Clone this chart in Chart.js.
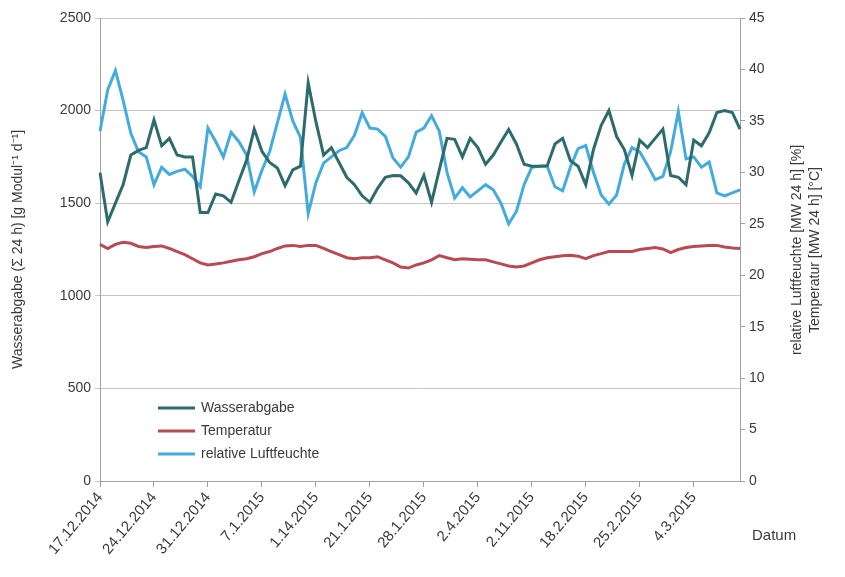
<!DOCTYPE html>
<html>
<head>
<meta charset="utf-8">
<script src="https://cdn.jsdelivr.net/npm/chart.js@4.4.1/dist/chart.umd.min.js"></script>
<style>
  html, body { margin: 0; padding: 0; background: #fff; }
  #wrap { width: 845px; height: 577px; position: relative; }
</style>
</head>
<body>
<div id="wrap"><canvas id="chart" width="845" height="577"></canvas></div>
<script>
// x axis labels shown every 7 days (kept as printed in the source)
const weekTicks = ['17.12.2014', '24.12.2014', '31.12.2014', '7.1.2015', '1.14.2015', '21.1.2015',
    '28.1.2015', '2.4.2015', '2.11.2015', '18.2.2015', '25.2.2015', '4.3.2015'];

// Wasserabgabe, g per module and day (left axis)
const wasserabgabe = [
    1665, 1400, 1500, 1600, 1760, 1785, 1800, 1950, 1810, 1850,
    1760, 1750, 1750, 1450, 1450, 1550, 1540, 1505, 1620, 1730,
    1900, 1780, 1720, 1690, 1595, 1680, 1700, 2150, 1940, 1760,
    1800, 1720, 1640, 1600, 1540, 1505, 1580, 1640, 1650, 1648,
    1610, 1555, 1650, 1505, 1680, 1850, 1845, 1750, 1850, 1800,
    1710, 1760, 1830, 1898, 1820, 1710, 1700, 1700, 1702, 1820,
    1850, 1730, 1700, 1600, 1790, 1920, 2000, 1860, 1790, 1650,
    1840, 1800, 1850, 1900, 1650, 1640, 1600, 1840, 1810, 1880,
    1990, 2000, 1990, 1900
];

// Temperatur, daily mean in °C (right axis)
const temperatur = [
    23.0, 22.6, 23.0, 23.2, 23.1, 22.8, 22.7, 22.8, 22.85, 22.6,
    22.3, 22.0, 21.6, 21.2, 21.0, 21.1, 21.2, 21.35, 21.5, 21.6,
    21.8, 22.1, 22.3, 22.6, 22.85, 22.9, 22.8, 22.9, 22.9, 22.6,
    22.3, 22.0, 21.7, 21.6, 21.7, 21.7, 21.8, 21.5, 21.2, 20.8,
    20.7, 21.0, 21.2, 21.5, 21.9, 21.7, 21.5, 21.6, 21.55, 21.5,
    21.5, 21.3, 21.1, 20.9, 20.8, 20.9, 21.2, 21.5, 21.7, 21.8,
    21.9, 21.95, 21.85, 21.6, 21.9, 22.1, 22.3, 22.3, 22.3, 22.3,
    22.5, 22.6, 22.7, 22.55, 22.2, 22.5, 22.7, 22.8, 22.85, 22.9,
    22.9, 22.75, 22.65, 22.6
];

// relative Luftfeuchte, daily mean in % (right axis)
const luftfeuchte = [
    34.0, 38.0, 39.9, 37.0, 33.8, 32.0, 31.5, 28.8, 30.5, 29.8,
    30.1, 30.3, 29.6, 28.6, 34.3, 33.0, 31.5, 33.9, 33.0, 31.7,
    28.1, 30.2, 32.0, 34.8, 37.6, 35.0, 33.4, 26.0, 29.0, 30.9,
    31.5, 32.1, 32.4, 33.6, 35.8, 34.3, 34.2, 33.5, 31.4, 30.5,
    31.5, 33.9, 34.3, 35.5, 34.0, 30.0, 27.5, 28.5, 27.6, 28.2,
    28.8, 28.3, 27.0, 25.0, 26.2, 28.8, 30.5, 30.6, 30.6, 28.6,
    28.2, 30.5, 32.3, 32.6, 30.0, 27.8, 26.9, 27.8, 30.8, 32.4,
    32.0, 30.7, 29.3, 29.6, 32.0, 35.9, 31.3, 31.5, 30.5, 31.0,
    28.0, 27.7, 28.0, 28.3
];

// one category per day starting 17.12.2014
const days = [];
for (let i = 0; i < wasserabgabe.length; i++) {
    const d = new Date(Date.UTC(2014, 11, 17 + i));
    days.push(d.getUTCDate() + '.' + (d.getUTCMonth() + 1) + '.' + d.getUTCFullYear());
}

const FONT = 'Liberation Sans, Arial, sans-serif';
const textColor = '#3a3a3a';

// legend, right axis titles and "Datum" are drawn by hand to sit where the original has them
const extras = {
    id: 'extras',
    afterDraw(chart) {
        const ctx = chart.ctx;
        ctx.save();
        ctx.font = '14px ' + FONT;
        ctx.fillStyle = textColor;
        ctx.textBaseline = 'middle';

        const rows = [408, 431, 454];
        chart.data.datasets.forEach((ds, i) => {
            ctx.strokeStyle = ds.borderColor;
            ctx.lineWidth = 3;
            ctx.beginPath();
            ctx.moveTo(158, rows[i]);
            ctx.lineTo(195, rows[i]);
            ctx.stroke();
            ctx.fillText(ds.label, 201, rows[i]);
        });

        ctx.font = '15px ' + FONT;
        ctx.fillText('Datum', 752, 536);

        ctx.font = '14px ' + FONT;
        ctx.textAlign = 'center';
        ctx.translate(806, 250);
        ctx.rotate(-Math.PI / 2);
        ctx.fillText('relative Luftfeuchte [MW 24 h] [%]', 0, -9);
        ctx.fillText('Temperatur [MW 24 h] [°C]', 0, 9);
        ctx.restore();
    }
};

new Chart(document.getElementById('chart'), {
    type: 'line',
    data: {
        labels: days,
        datasets: [
            { label: 'Wasserabgabe', data: wasserabgabe, yAxisID: 'y', borderColor: '#2e6b6d' },
            { label: 'Temperatur', data: temperatur, yAxisID: 'y1', borderColor: '#b84a52' },
            { label: 'relative Luftfeuchte', data: luftfeuchte, yAxisID: 'y1', borderColor: '#45abdc' }
        ].map(ds => Object.assign(ds, { borderWidth: 3, pointRadius: 0, tension: 0, fill: false }))
    },
    options: {
        responsive: false,
        animation: false,
        layout: { padding: { top: 18, left: 0, right: 0, bottom: 0 } },
        plugins: { legend: { display: false }, tooltip: { enabled: false } },
        scales: {
            x: {
                type: 'category',
                offset: false,
                afterFit: s => { s.height = 96; },
                border: { color: '#a0a0a0' },
                grid: { drawOnChartArea: false, tickLength: 6, color: '#a0a0a0' },
                ticks: {
                    autoSkip: false, maxRotation: 50, minRotation: 50, padding: 2,
                    color: textColor, font: { family: FONT, size: 15 },
                    callback: (v, i) => (i % 7 === 0 ? weekTicks[i / 7] : null)
                }
            },
            y: {
                position: 'left',
                min: 0, max: 2500,
                afterFit: s => { s.width = 100; },
                border: { color: '#a0a0a0' },
                grid: { color: '#c4c4c4', tickLength: 5 },
                ticks: {
                    stepSize: 500, padding: 4, color: textColor, font: { family: FONT, size: 14 },
                    callback: v => String(v)
                },
                title: {
                    display: true, text: 'Wasserabgabe (Σ 24 h) [g Modul⁻¹ d⁻¹]',
                    color: textColor, font: { family: FONT, size: 14 }, padding: { top: 10, bottom: 0 }
                }
            },
            y1: {
                position: 'right',
                min: 0, max: 45,
                afterFit: s => { s.width = 105; },
                border: { color: '#a0a0a0' },
                grid: { drawOnChartArea: false, tickLength: 5, color: '#a0a0a0' },
                ticks: {
                    stepSize: 5, padding: 4, color: textColor, font: { family: FONT, size: 14 },
                    callback: v => String(v)
                }
            }
        }
    },
    plugins: [extras]
});
</script>
</body>
</html>
